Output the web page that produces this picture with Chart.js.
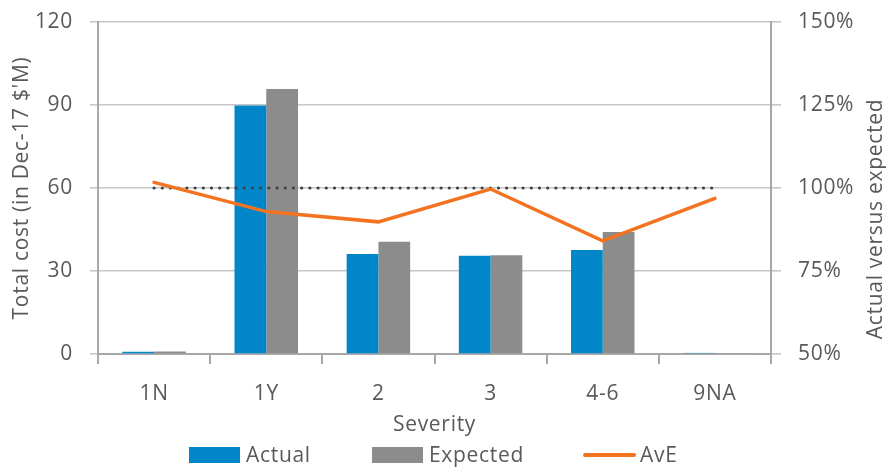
<!DOCTYPE html>
<html>
<head>
<meta charset="utf-8">
<script src="https://cdn.jsdelivr.net/npm/chart.js@4"></script>
<style>
  html, body { margin: 0; padding: 0; background: #ffffff; }
  #wrap { width: 886px; height: 468px; }
</style>
</head>
<body>
<div id="wrap"><canvas id="chart" width="886" height="468"></canvas></div>
<script>
// Severity categories and values
const categories = ['1N', '1Y', '2', '3', '4-6', '9NA'];
const actual = [0.8, 89.8, 36.1, 35.5, 37.6, 0.4];      // $'M, Dec-17 terms
const expected = [0.9, 95.8, 40.6, 35.7, 44.1, 0.4];    // $'M, Dec-17 terms
const ave = [101.7, 92.9, 89.8, 99.7, 84.1, 96.9];       // actual versus expected, %
const benchmark = [100, 100, 100, 100, 100, 100];        // 100% reference line
const costTicks = [0, 30, 60, 90, 120];
const ratioTicks = [50, 75, 100, 125, 150];
const legendOrder = ['Actual', 'Expected', 'AvE'];

const FONT = '"Open Sans", "DejaVu Sans", sans-serif';
const TEXT = '#595959';
const GRID = '#c6c6c6';
const AXIS = '#a8a8a8';
const BLUE = '#0086c9';
const GREY = '#8c8c8c';
const ORANGE = '#f37321';
const DOTS = '#404040';
const SPACING = '0.7px';
const font = { family: FONT, size: 21, lineHeight: 1.2 };

// Slightly open letter spacing for all canvas text
const textSpacing = {
  id: 'textSpacing',
  beforeUpdate(chart) { chart.ctx.letterSpacing = SPACING; },
  beforeDraw(chart) { chart.ctx.letterSpacing = SPACING; }
};

// Bottom legend: marker + label for each series in legendOrder
const bottomLegend = {
  id: 'bottomLegend',
  afterDraw(chart) {
    const ctx = chart.ctx;
    const slots = [189, 372, 583];
    const cy = 455;
    ctx.save();
    ctx.letterSpacing = SPACING;
    ctx.font = '21px ' + FONT;
    ctx.textBaseline = 'middle';
    ctx.textAlign = 'left';
    legendOrder.forEach((name, k) => {
      const ds = chart.data.datasets.find(d => d.label === name);
      const x = slots[k];
      if (ds.type === 'line') {
        ctx.strokeStyle = ds.borderColor;
        ctx.lineWidth = 4;
        ctx.lineCap = 'round';
        ctx.beginPath();
        ctx.moveTo(x + 2, cy);
        ctx.lineTo(x + 51, cy);
        ctx.stroke();
      } else {
        ctx.fillStyle = ds.backgroundColor;
        ctx.fillRect(x, cy - 8, 51, 16);
      }
      ctx.fillStyle = TEXT;
      ctx.fillText(ds.label, x + 57, cy + 1);
    });
    ctx.restore();
  }
};

// Right-hand axis title, read bottom to top
const rightTitle = {
  id: 'rightTitle',
  afterDraw(chart) {
    const ctx = chart.ctx;
    ctx.save();
    ctx.letterSpacing = SPACING;
    ctx.translate(876, 219);
    ctx.rotate(-Math.PI / 2);
    ctx.font = '21px ' + FONT;
    ctx.fillStyle = TEXT;
    ctx.textAlign = 'center';
    ctx.textBaseline = 'middle';
    ctx.fillText('Actual versus expected', 0, 0);
    ctx.restore();
  }
};

new Chart(document.getElementById('chart'), {
  data: {
    labels: categories,
    datasets: [
      {
        type: 'line', label: 'AvE', data: ave, yAxisID: 'y2', order: 0,
        borderColor: ORANGE, borderWidth: 3.5, pointRadius: 0, tension: 0,
        borderCapStyle: 'round', borderJoinStyle: 'miter', fill: false
      },
      {
        type: 'line', label: '100%', data: benchmark, yAxisID: 'y2', order: 1,
        borderColor: DOTS, borderWidth: 3.2, borderDash: [0, 8.2], borderCapStyle: 'round',
        pointRadius: 0, fill: false
      },
      {
        type: 'bar', label: 'Actual', data: actual, yAxisID: 'y', order: 2,
        backgroundColor: BLUE, barPercentage: 1, categoryPercentage: 0.566
      },
      {
        type: 'bar', label: 'Expected', data: expected, yAxisID: 'y', order: 2,
        backgroundColor: GREY, barPercentage: 1, categoryPercentage: 0.566
      }
    ]
  },
  options: {
    responsive: false,
    animation: false,
    layout: { padding: { top: 22, bottom: 30, left: 0, right: 0 } },
    plugins: { legend: { display: false }, tooltip: { enabled: false } },
    scales: {
      x: {
        offset: true,
        grid: { offset: true, drawOnChartArea: false, tickLength: 10, color: AXIS, lineWidth: 2 },
        border: { color: AXIS, width: 2 },
        ticks: { padding: 17, color: TEXT, font: font, maxRotation: 0 },
        title: { display: true, text: 'Severity', color: TEXT, font: font, padding: 0 },
        afterFit: s => { s.height = 84; s.paddingLeft = 0; s.paddingRight = 0; }
      },
      y: {
        position: 'left',
        min: costTicks[0], max: costTicks[costTicks.length - 1],
        afterBuildTicks: s => { s.ticks = costTicks.map(v => ({ value: v })); },
        grid: { color: GRID, lineWidth: 1.6, tickLength: 8, tickColor: GRID },
        border: { color: AXIS, width: 2 },
        ticks: { padding: 17, color: TEXT, font: font },
        title: { display: true, text: "Total cost (in Dec-17 $'M)", color: TEXT, font: font, padding: { top: 9, bottom: 0 } },
        afterFit: s => { s.width = 98; s.paddingTop = 0; s.paddingBottom = 0; }
      },
      y2: {
        position: 'right',
        min: ratioTicks[0], max: ratioTicks[ratioTicks.length - 1],
        afterBuildTicks: s => { s.ticks = ratioTicks.map(v => ({ value: v })); },
        grid: { drawOnChartArea: false, color: GRID, lineWidth: 1.6, tickLength: 10 },
        border: { color: AXIS, width: 2 },
        ticks: { padding: 17, color: TEXT, font: font, callback: v => v + '%' },
        afterFit: s => { s.width = 115; s.paddingTop = 0; s.paddingBottom = 0; }
      }
    }
  },
  plugins: [textSpacing, bottomLegend, rightTitle]
});
</script>
</body>
</html>
